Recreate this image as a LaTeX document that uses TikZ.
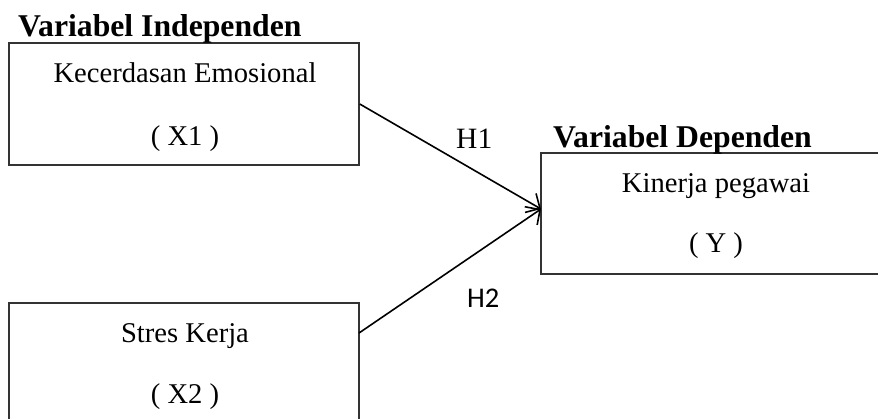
\documentclass[tikz,border=0pt]{standalone}
\usepackage{fontspec}
\setmainfont{Liberation Serif}
\newfontfamily\calibri{Carlito}
\usetikzlibrary{arrows.meta}
\tikzset{
  box/.style={draw=black!80, line width=1.5pt, rectangle, inner sep=0pt, minimum width=350pt},
  heading/.style={font=\fontsize{31.7}{34}\selectfont\bfseries, inner sep=0pt, anchor=base west},
  boxtext/.style={font=\fontsize{28.6}{32}\selectfont, inner sep=0pt, anchor=base},
  hyp/.style={font=\fontsize{29.5}{32}\selectfont, inner sep=0pt, anchor=base west},
  hypsans/.style={font=\calibri\fontsize{28.5}{32}\selectfont, inner sep=0pt, anchor=base west},
  conn/.style={line width=1.6pt, -{Straight Barb[length=11pt,width=22pt,line width=1.6pt]}}
}
\begin{document}
\begin{tikzpicture}[x=1pt,y=-1pt]
\useasboundingbox (0,0) rectangle (878,418);
\clip (0,0) rectangle (878,418);
\fill[white] (0,0) rectangle (878,418);
% boxes
\node[box, minimum height=122pt] (x1) at (184,104) {};
\node[box, minimum height=122pt] (x2) at (184,364) {};
\node[box, minimum height=121pt] (y) at (716,213.5) {};
% headings
\node[heading] (hind) at (18,36) {Variabel Independen};
\node[heading] (hdep) at (553,147) {Variabel Dependen};
% box texts
\node[boxtext] (x1a) at (185,82) {Kecerdasan Emosional};
\node[boxtext] (x1b) at (185,145) {( X1 )};
\node[boxtext] (x2a) at (185,342) {Stres Kerja};
\node[boxtext] (x2b) at (185,403) {( X2 )};
\node[boxtext] (ya) at (716,192) {Kinerja pegawai};
\node[boxtext] (yb) at (716,252) {( Y )};
% hypothesis labels
\node[hyp] (h1) at (456,148) {H1};
\node[hypsans] (h2) at (467,307) {H2};
% connectors
\coordinate (s2) at (359,333);
\coordinate (tip) at (541,209);
\draw[conn] (x1.east) -- (tip);
\draw[conn] (s2) -- (tip);
\end{tikzpicture}
\end{document}
